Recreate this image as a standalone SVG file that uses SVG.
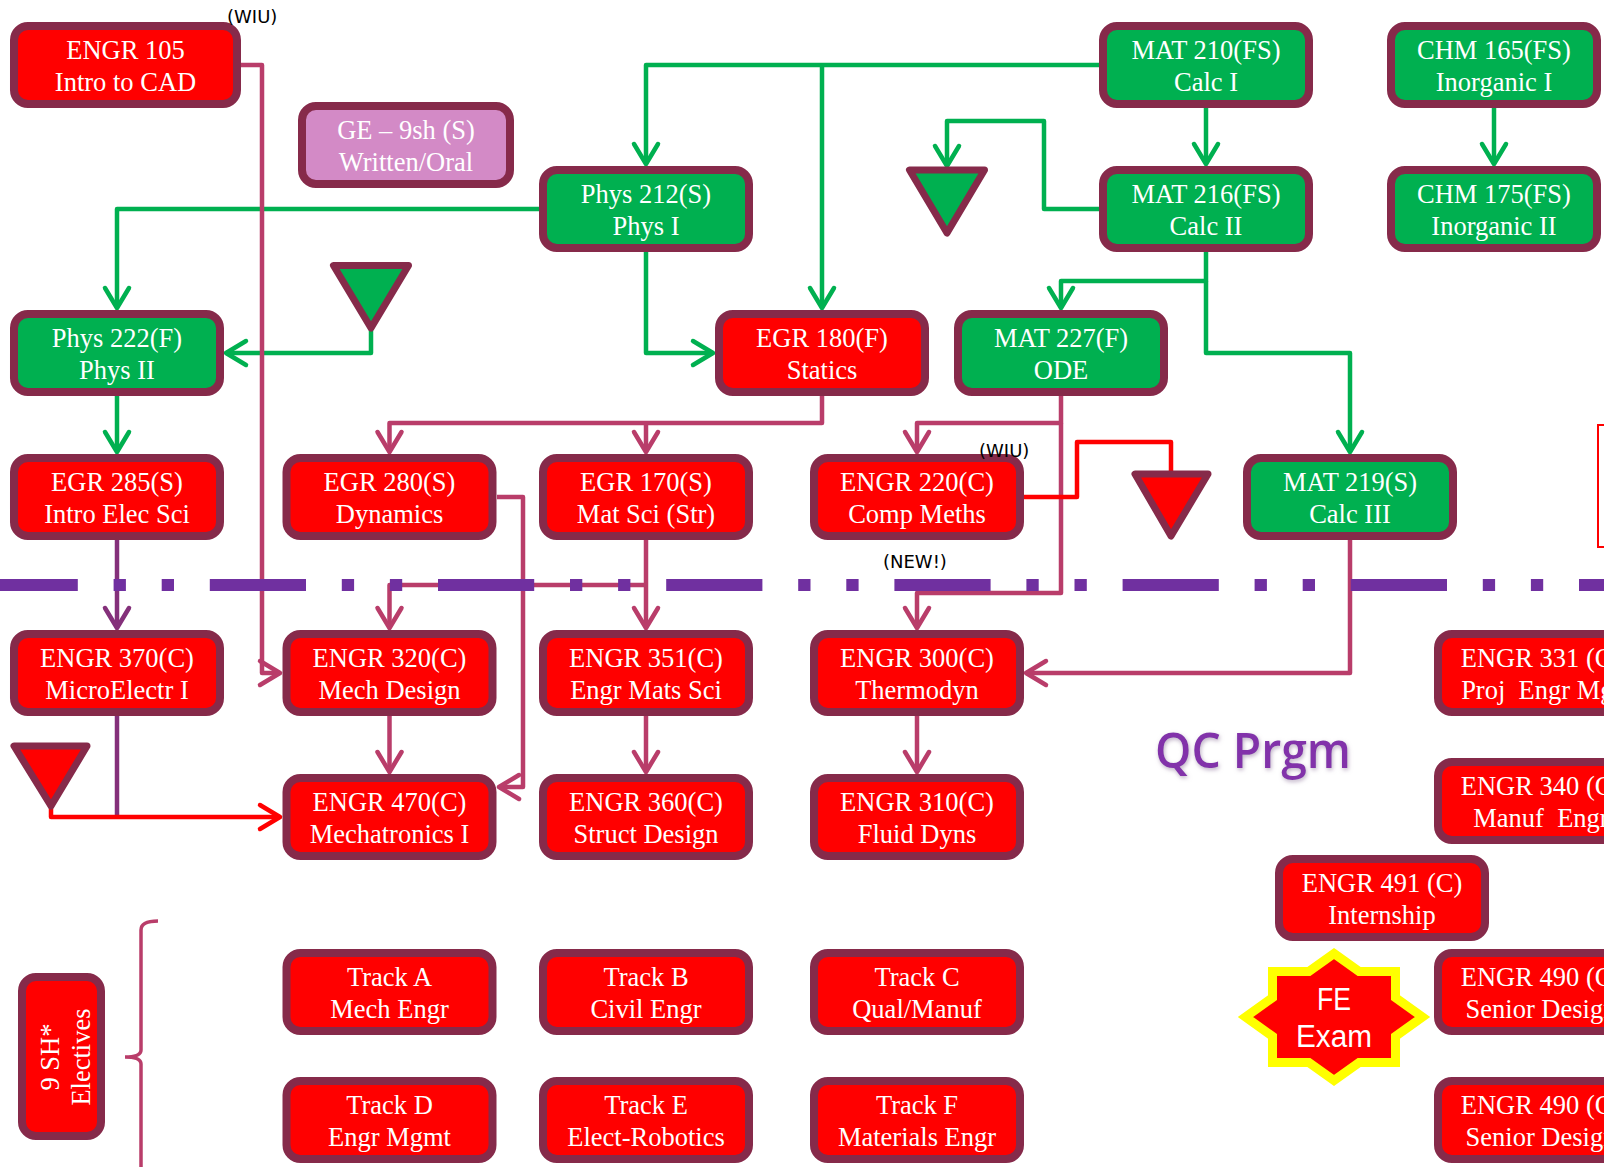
<svg xmlns="http://www.w3.org/2000/svg" width="1604" height="1167" viewBox="0 0 1604 1167">
<style>
.r{fill:#FF0000;stroke:#862A4A;stroke-width:8}
.g{fill:#00B050;stroke:#862A4A;stroke-width:8}
.p{fill:#D38AC6;stroke:#862A4A;stroke-width:8}
.t{font-family:"Liberation Serif","Times New Roman",serif;font-size:26.5px;fill:#FFFFFF;text-anchor:middle;white-space:pre}
.lbl{font-family:"DejaVu Sans",sans-serif;font-size:18px;fill:#000000}
.cg{fill:none;stroke:#00B050;stroke-width:4.5;stroke-linejoin:round;marker-end:url(#mg)}
.cp{fill:none;stroke:#B93D6A;stroke-width:4.5;stroke-linejoin:round;marker-end:url(#mp)}
.cv{fill:none;stroke:#84307A;stroke-width:4.5;stroke-linejoin:round}
.cr{fill:none;stroke:#FF0000;stroke-width:4.5;stroke-linejoin:round}
.tri{stroke:#862A4A;stroke-width:7;stroke-linejoin:round}
</style>
<defs>
<marker id="mg" markerUnits="userSpaceOnUse" markerWidth="30" markerHeight="30" viewBox="-25 -15 30 30" refX="0" refY="0" orient="auto" overflow="visible"><path d="M-20,-12 L0,0 L-20,12" fill="none" stroke="#00B050" stroke-width="4.5" stroke-linecap="round" stroke-linejoin="round"/></marker>
<marker id="mp" markerUnits="userSpaceOnUse" markerWidth="30" markerHeight="30" viewBox="-25 -15 30 30" refX="0" refY="0" orient="auto" overflow="visible"><path d="M-20,-12 L0,0 L-20,12" fill="none" stroke="#B93D6A" stroke-width="4.5" stroke-linecap="round" stroke-linejoin="round"/></marker>
<marker id="mv" markerUnits="userSpaceOnUse" markerWidth="30" markerHeight="30" viewBox="-25 -15 30 30" refX="0" refY="0" orient="auto" overflow="visible"><path d="M-20,-12 L0,0 L-20,12" fill="none" stroke="#84307A" stroke-width="4.5" stroke-linecap="round" stroke-linejoin="round"/></marker>
<marker id="mr" markerUnits="userSpaceOnUse" markerWidth="30" markerHeight="30" viewBox="-25 -15 30 30" refX="0" refY="0" orient="auto" overflow="visible"><path d="M-20,-12 L0,0 L-20,12" fill="none" stroke="#FF0000" stroke-width="4.5" stroke-linecap="round" stroke-linejoin="round"/></marker>
<filter id="glow" x="-20%" y="-30%" width="140%" height="160%"><feDropShadow dx="1" dy="2" stdDeviation="2" flood-color="#B8A8C0" flood-opacity="0.9"/></filter>
</defs>
<rect width="1604" height="1167" fill="#FFFFFF"/>

<g id="connectors">
<path class="cg" d="M1099,65 H646 V164"/>
<path class="cg" d="M822,65 V308"/>
<path class="cg" d="M1206,108 V164"/>
<path class="cg" d="M1494,108 V164"/>
<path class="cg" d="M1099,209 H1044 V121 H947 V166"/>
<path class="cg" d="M539,209 H117 V308"/>
<path class="cg" d="M646,252 V353 H713"/>
<path class="cg" d="M1206,252 V281 H1061 V308"/>
<path class="cg" d="M1206,281 V353 H1350 V452"/>
<path class="cg" d="M371,330 V353 H226"/>
<path class="cg" d="M117,396 V452"/>
<path class="cp" d="M241,65 H262 V673 H280"/>
<path class="cp" d="M822,396 V423 H389.5 V452"/>
<path class="cp" d="M646,423 V452"/>
<path class="cp" d="M1061,396 V423 H917 V452"/>
<path class="cp" d="M1061,423 V593 H917 V628"/>
<path class="cp" d="M497,497 H523 V787 H499"/>
<path class="cp" d="M646,540 V628"/>
<path class="cp" d="M646,585 H389.5 V628"/>
<path class="cp" d="M389.5,716 V772"/>
<path class="cp" d="M646,716 V772"/>
<path class="cp" d="M917,716 V772"/>
<path class="cp" d="M1350,540 V673 H1026"/>
<path class="cv" d="M117,540 V628" marker-end="url(#mv)"/>
<path class="cv" d="M117,716 V817"/>
<path class="cr" d="M1024,497 H1077 V442 H1171 V474"/>
<path class="cr" d="M51,806 V817 H280" marker-end="url(#mr)"/>
<path d="M158,921 Q141,921 141,930 V1050 Q141,1057 125,1057 Q141,1057 141,1064 V1170" fill="none" stroke="#B93D6A" stroke-width="3.5"/>
</g>

<line id="divider" x1="-18.4" y1="585" x2="1604" y2="585" stroke="#7030A0" stroke-width="12" stroke-dasharray="96.2 35.8 12.3 35.8 12.3 35.8"/>

<g id="tri-left"><polygon class="tri" fill="#00B050" points="333.5,265.5 408.5,265.5 371,328"/></g>
<g id="tri-mid"><polygon class="tri" fill="#00B050" points="909.5,170 984.5,170 947,233"/></g>
<g id="tri-right"><polygon class="tri" fill="#FF0000" points="1135,474 1208,474 1171,536"/></g>
<g id="tri-low"><polygon class="tri" fill="#FF0000" points="14,746 87,746 51,806"/></g>

<g id="engr105"><rect class="r" x="14" y="26" width="223" height="78" rx="14"/><text class="t" x="125.5" y="58.5">ENGR 105</text><text class="t" x="125.5" y="90.5">Intro to CAD</text></g>
<g id="ge"><rect class="p" x="302" y="106" width="208" height="78" rx="14"/><text class="t" x="406" y="138.5" fill="#F7EDF5">GE – 9sh (S)</text><text class="t" x="406" y="170.5">Written/Oral</text></g>
<g id="mat210"><rect class="g" x="1103" y="26" width="206" height="78" rx="14"/><text class="t" x="1206" y="58.5">MAT 210(FS)</text><text class="t" x="1206" y="90.5">Calc I</text></g>
<g id="chm165"><rect class="g" x="1391" y="26" width="206" height="78" rx="14"/><text class="t" x="1494" y="58.5">CHM 165(FS)</text><text class="t" x="1494" y="90.5">Inorganic I</text></g>
<g id="phys212"><rect class="g" x="543" y="170" width="206" height="78" rx="14"/><text class="t" x="646" y="202.5">Phys 212(S)</text><text class="t" x="646" y="234.5">Phys I</text></g>
<g id="mat216"><rect class="g" x="1103" y="170" width="206" height="78" rx="14"/><text class="t" x="1206" y="202.5">MAT 216(FS)</text><text class="t" x="1206" y="234.5">Calc II</text></g>
<g id="chm175"><rect class="g" x="1391" y="170" width="206" height="78" rx="14"/><text class="t" x="1494" y="202.5">CHM 175(FS)</text><text class="t" x="1494" y="234.5">Inorganic II</text></g>
<g id="phys222"><rect class="g" x="14" y="314" width="206" height="78" rx="14"/><text class="t" x="117" y="346.5">Phys 222(F)</text><text class="t" x="117" y="378.5">Phys II</text></g>
<g id="egr180"><rect class="r" x="719" y="314" width="206" height="78" rx="14"/><text class="t" x="822" y="346.5">EGR 180(F)</text><text class="t" x="822" y="378.5">Statics</text></g>
<g id="mat227"><rect class="g" x="958" y="314" width="206" height="78" rx="14"/><text class="t" x="1061" y="346.5">MAT 227(F)</text><text class="t" x="1061" y="378.5">ODE</text></g>
<g id="egr285"><rect class="r" x="14" y="458" width="206" height="78" rx="14"/><text class="t" x="117" y="490.5">EGR 285(S)</text><text class="t" x="117" y="522.5">Intro Elec Sci</text></g>
<g id="egr280"><rect class="r" x="286.5" y="458" width="206" height="78" rx="14"/><text class="t" x="389.5" y="490.5">EGR 280(S)</text><text class="t" x="389.5" y="522.5">Dynamics</text></g>
<g id="egr170"><rect class="r" x="543" y="458" width="206" height="78" rx="14"/><text class="t" x="646" y="490.5">EGR 170(S)</text><text class="t" x="646" y="522.5">Mat Sci (Str)</text></g>
<g id="engr220"><rect class="r" x="814" y="458" width="206" height="78" rx="14"/><text class="t" x="917" y="490.5">ENGR 220(C)</text><text class="t" x="917" y="522.5">Comp Meths</text></g>
<g id="mat219"><rect class="g" x="1247" y="458" width="206" height="78" rx="14"/><text class="t" x="1350" y="490.5">MAT 219(S)</text><text class="t" x="1350" y="522.5">Calc III</text></g>
<g id="engr370"><rect class="r" x="14" y="634" width="206" height="78" rx="14"/><text class="t" x="117" y="666.5">ENGR 370(C)</text><text class="t" x="117" y="698.5">MicroElectr I</text></g>
<g id="engr320"><rect class="r" x="286.5" y="634" width="206" height="78" rx="14"/><text class="t" x="389.5" y="666.5">ENGR 320(C)</text><text class="t" x="389.5" y="698.5">Mech Design</text></g>
<g id="engr351"><rect class="r" x="543" y="634" width="206" height="78" rx="14"/><text class="t" x="646" y="666.5">ENGR 351(C)</text><text class="t" x="646" y="698.5">Engr Mats Sci</text></g>
<g id="engr300"><rect class="r" x="814" y="634" width="206" height="78" rx="14"/><text class="t" x="917" y="666.5">ENGR 300(C)</text><text class="t" x="917" y="698.5">Thermodyn</text></g>
<g id="engr331"><rect class="r" x="1438" y="634" width="206" height="78" rx="14"/><text class="t" x="1541" y="666.5">ENGR 331 (C)</text><text class="t" x="1541" y="698.5">Proj  Engr Mgt</text></g>
<g id="engr470"><rect class="r" x="286.5" y="778" width="206" height="78" rx="14"/><text class="t" x="389.5" y="810.5">ENGR 470(C)</text><text class="t" x="389.5" y="842.5">Mechatronics I</text></g>
<g id="engr360"><rect class="r" x="543" y="778" width="206" height="78" rx="14"/><text class="t" x="646" y="810.5">ENGR 360(C)</text><text class="t" x="646" y="842.5">Struct Design</text></g>
<g id="engr310"><rect class="r" x="814" y="778" width="206" height="78" rx="14"/><text class="t" x="917" y="810.5">ENGR 310(C)</text><text class="t" x="917" y="842.5">Fluid Dyns</text></g>
<g id="engr340"><rect class="r" x="1438" y="762" width="206" height="78" rx="14"/><text class="t" x="1541" y="794.5">ENGR 340 (C)</text><text class="t" x="1541" y="826.5">Manuf  Engr</text></g>
<g id="engr491"><rect class="r" x="1279" y="859" width="206" height="78" rx="14"/><text class="t" x="1382" y="891.5">ENGR 491 (C)</text><text class="t" x="1382" y="923.5">Internship</text></g>
<g id="trackA"><rect class="r" x="286.5" y="953" width="206" height="78" rx="14"/><text class="t" x="389.5" y="985.5">Track A</text><text class="t" x="389.5" y="1017.5">Mech Engr</text></g>
<g id="trackB"><rect class="r" x="543" y="953" width="206" height="78" rx="14"/><text class="t" x="646" y="985.5">Track B</text><text class="t" x="646" y="1017.5">Civil Engr</text></g>
<g id="trackC"><rect class="r" x="814" y="953" width="206" height="78" rx="14"/><text class="t" x="917" y="985.5">Track C</text><text class="t" x="917" y="1017.5">Qual/Manuf</text></g>
<g id="trackD"><rect class="r" x="286.5" y="1081" width="206" height="78" rx="14"/><text class="t" x="389.5" y="1113.5">Track D</text><text class="t" x="389.5" y="1145.5">Engr Mgmt</text></g>
<g id="trackE"><rect class="r" x="543" y="1081" width="206" height="78" rx="14"/><text class="t" x="646" y="1113.5">Track E</text><text class="t" x="646" y="1145.5">Elect-Robotics</text></g>
<g id="trackF"><rect class="r" x="814" y="1081" width="206" height="78" rx="14"/><text class="t" x="917" y="1113.5">Track F</text><text class="t" x="917" y="1145.5">Materials Engr</text></g>
<g id="engr490a"><rect class="r" x="1438" y="953" width="206" height="78" rx="14"/><text class="t" x="1541" y="985.5">ENGR 490 (C)</text><text class="t" x="1541" y="1017.5">Senior Design</text></g>
<g id="engr490b"><rect class="r" x="1438" y="1081" width="206" height="78" rx="14"/><text class="t" x="1541" y="1113.5">ENGR 490 (C)</text><text class="t" x="1541" y="1145.5">Senior Design</text></g>
<g id="electives"><rect class="r" x="22" y="977" width="79" height="159" rx="14"/><g transform="translate(61.5,1057) rotate(-90)"><text class="t" x="0" y="-3">9 SH*</text><text class="t" x="0" y="28.5">Electives</text></g></g>
<g id="fe-exam"><polygon points="1334,953.5 1359.1,971.5 1395.5,971.5 1395.5,997.6 1422.5,1017 1395.5,1036.4 1395.5,1062.5 1359.1,1062.5 1334,1080.5 1308.9,1062.5 1272.5,1062.5 1272.5,1036.4 1245.5,1017 1272.5,997.6 1272.5,971.5 1308.9,971.5" fill="#FF0000" stroke="#FFFF00" stroke-width="9"/><text x="1334" y="1010" font-family="Liberation Sans, Arial, sans-serif" font-size="31" fill="#FFFFFF" text-anchor="middle" textLength="34" lengthAdjust="spacingAndGlyphs">FE</text><text x="1334" y="1047" font-family="Liberation Sans, Arial, sans-serif" font-size="31" fill="#FFFFFF" text-anchor="middle" textLength="76" lengthAdjust="spacingAndGlyphs">Exam</text></g>
<g id="red-box"><rect x="1598" y="425" width="30" height="122" fill="#FFFFFF" stroke="#FF0000" stroke-width="2"/></g>

<g id="labels">
<text class="lbl" x="227" y="23">(WIU)</text>
<text class="lbl" x="979" y="457">(WIU)</text>
<text class="lbl" x="883" y="568">(NEW!)</text>
<text x="1155" y="768" font-family="Open Sans, DejaVu Sans, sans-serif" font-weight="600" font-size="48" fill="#8233AA" textLength="196" lengthAdjust="spacingAndGlyphs" filter="url(#glow)">QC Prgm</text>
</g>
</svg>
